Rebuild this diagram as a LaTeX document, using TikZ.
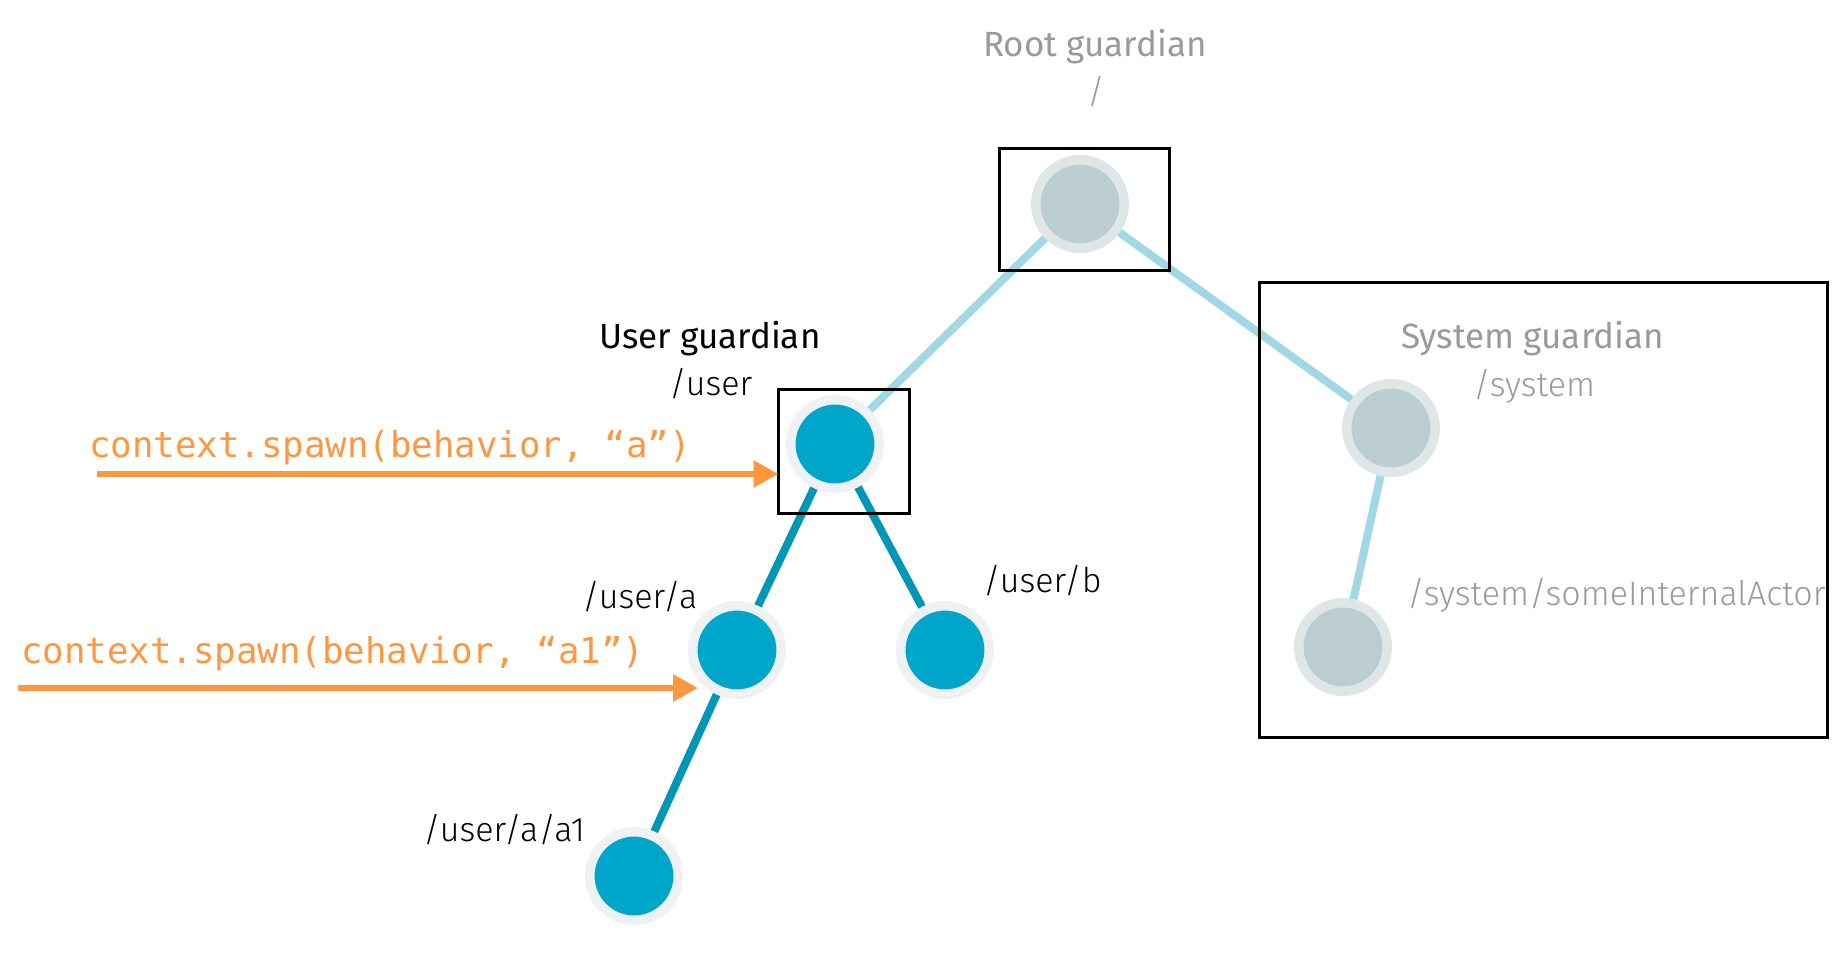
\documentclass[tikz,border=0pt]{standalone}
\usepackage{fontspec}
\setmainfont{Fira Sans}
\newfontfamily\lightfont{Fira Sans Light}
\newfontfamily\codefont{DejaVu Sans Mono}
\usetikzlibrary{arrows.meta,backgrounds}
\definecolor{actor}{HTML}{00A6CA}
\definecolor{ring}{HTML}{EEF2F5}
\definecolor{gfill}{HTML}{BBCDD1}
\definecolor{gring}{HTML}{DFE6E8}
\definecolor{dline}{HTML}{0096B6}
\definecolor{lline}{HTML}{A0D8E6}
\definecolor{gtext}{HTML}{9A9A9A}
\definecolor{orng}{HTML}{FF9640}
\tikzset{
  useractor/.style={circle,draw=ring,fill=actor,line width=9.5pt,minimum size=88.5pt,inner sep=0pt,outer sep=0pt},
  sysactor/.style={circle,draw=gring,fill=gfill,line width=9.5pt,minimum size=88.5pt,inner sep=0pt,outer sep=0pt},
  frame/.style={draw=black,line width=3pt,inner sep=0pt,outer sep=0pt},
  darkedge/.style={dline,line width=8pt},
  lightedge/.style={lline,line width=8pt},
  spawnarrow/.style={orng,line width=6pt,-{Triangle[length=25pt,width=26pt]}},
  title/.style={anchor=base west,inner sep=0pt,font=\fontsize{35}{40}\selectfont},
  pathlabel/.style={anchor=base west,inner sep=0pt,font=\lightfont\fontsize{34}{40}\selectfont},
  code/.style={anchor=base west,inner sep=0pt,text=orng,font=\codefont\fontsize{35.7}{40}\selectfont},
}
\begin{document}
\begin{tikzpicture}[x=1pt,y=-1pt]
\useasboundingbox (0,0) rectangle (1848,954);
% actors
\node[sysactor] (root) at (1080,204) {};
\node[useractor] (user) at (835,444) {};
\node[sysactor] (system) at (1391,428) {};
\node[sysactor] (internal) at (1343,647) {};
\node[useractor] (a) at (737,650) {};
\node[useractor] (b) at (945,650) {};
\node[useractor] (a1) at (634,876) {};
% edges
\begin{scope}[on background layer]
\draw[lightedge] (root.center) -- (user.center);
\draw[lightedge] (root.center) -- (system.center);
\draw[lightedge] (system.center) -- (internal.center);
\draw[darkedge] (user.center) -- (a.center);
\draw[darkedge] (user.center) -- (b.center);
\draw[darkedge] (a.center) -- (a1.center);
\end{scope}
% frames
\node[frame,minimum width=170pt,minimum height=122pt] (rootbox) at (1084.5,209.5) {};
\node[frame,minimum width=131pt,minimum height=124pt] (userbox) at (844,451.5) {};
\node[frame,minimum width=568pt,minimum height=455pt] (sysbox) at (1543.5,510) {};
% labels
\node[title,text=gtext] (rootlbl) at (983,56) {Root guardian};
\node[pathlabel,text=gtext] (rootpath) at (1087,103) {/};
\node[title] (userlbl) at (599,348) {User guardian};
\node[pathlabel] (userpath) at (669,395) {/user};
\node[title,text=gtext] (syslbl) at (1401,348) {System guardian};
\node[pathlabel,text=gtext] (syspath) at (1473,396) {/system};
\node[pathlabel,text=gtext] (intpath) at (1407,605) {/system/someInternalActor};
\node[pathlabel] (apath) at (582,608) {/user/a};
\node[pathlabel] (bpath) at (983,592) {/user/b};
\node[pathlabel] (a1path) at (423,841) {/user/a/a1};
% spawn calls
\node[code] (spawna) at (89,457) {context.spawn(behavior, “a”)};
\node[code] (spawna1) at (21,663) {context.spawn(behavior, “a1”)};
\coordinate (s1) at (97,474);
\coordinate (s2) at (18,688);
\coordinate (e2) at (698,688);
\draw[spawnarrow] (s1) -- (s1 -| userbox.west);
\draw[spawnarrow] (s2) -- (e2);
\end{tikzpicture}
\end{document}
